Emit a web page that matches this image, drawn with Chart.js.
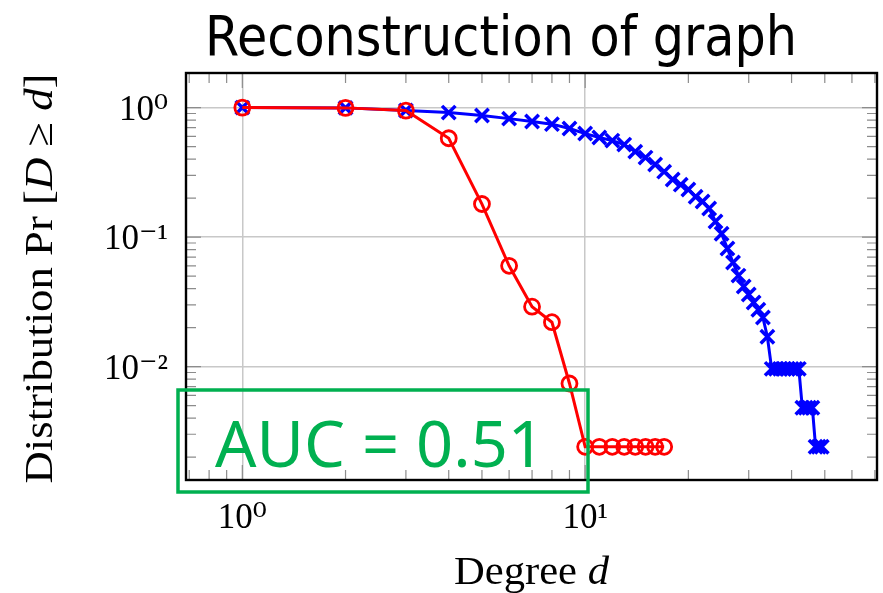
<!DOCTYPE html>
<html>
<head>
<meta charset="utf-8">
<title>Reconstruction of graph</title>
<script src="https://cdn.jsdelivr.net/npm/chart.js@4.4.1/dist/chart.umd.min.js"></script>
<style>
  html, body { margin: 0; padding: 0; background: #fff; overflow: hidden; }
  #wrap { width: 883px; height: 593px; overflow: hidden; position: relative; }
  #chart { display: block; position: absolute; left: 0; top: 0; }
</style>
</head>
<body>
<div id="wrap"><canvas id="chart" width="890" height="593"></canvas></div>
<script>
const chartTitle = 'Reconstruction of graph';
const aucText = 'AUC = 0.51';
// [text, italic?]
const xAxisTitle = [['Degree ', false], ['d', true]];
const yAxisTitle = [['Distribution Pr [', false], ['D', true], [' ≥ ', false], ['d', true], [']', false]];

const xTickValues = [1, 10];
const xTickLabels = ['10⁰', '10¹'];
const yTickValues = [0.01, 0.1, 1];
const yTickLabels = ['10⁻²', '10⁻¹', '10⁰'];

// reconstructed graph (red circles)
const redDegrees = [1, 2, 3, 4, 5, 6, 7, 8, 9, 10, 11, 12, 13, 14, 15, 16, 17];
const redValues = [1.0, 0.995, 0.948, 0.58, 0.18, 0.06, 0.029, 0.022, 0.0074,
                   0.0024, 0.0024, 0.0024, 0.0024, 0.0024, 0.0024, 0.0024, 0.0024];

// original graph (blue crosses)
const blueDegrees = [1, 2, 3, 4, 5, 6, 7, 8, 9, 10,
                     11, 12, 13, 14, 15, 16, 17, 18, 19, 20,
                     21, 22, 23, 24, 25, 26, 27, 28, 29, 30,
                     31, 32, 33, 34, 35, 36, 37, 38, 39, 40,
                     41, 42, 43, 44, 45, 46, 47, 48, 49];
const blueValues = [1.0, 0.995, 0.95, 0.915, 0.868, 0.822, 0.78, 0.745, 0.69, 0.63,
                    0.587, 0.556, 0.518, 0.457, 0.411, 0.363, 0.32, 0.278, 0.254, 0.233,
                    0.205, 0.188, 0.166, 0.132, 0.106, 0.0815, 0.0636, 0.0504, 0.0415, 0.036,
                    0.0312, 0.0275, 0.0239, 0.017, 0.0096, 0.0096, 0.0096, 0.0096, 0.0096, 0.0096,
                    0.0096, 0.0096, 0.0048, 0.0048, 0.0048, 0.0048, 0.0024, 0.0024, 0.0024];

const serif = '"Liberation Serif", "DejaVu Serif", serif';

// draws text squeezed/stretched to a given width
function drawFitted(ctx, text, font, cx, baseline, width) {
    ctx.font = font;
    const w = ctx.measureText(text).width;
    ctx.save();
    ctx.translate(cx, baseline);
    ctx.scale(width / w, 1);
    ctx.textAlign = 'center';
    ctx.textBaseline = 'alphabetic';
    ctx.fillText(text, 0, 0);
    ctx.restore();
}

// mixed roman / italic text, centred on (cx, baseline), optionally rotated
function drawRich(ctx, parts, size, cx, baseline, width, angle) {
    const fontFor = italic => (italic ? 'italic ' : '') + size + 'px ' + serif;
    let total = 0;
    parts.forEach(([t, it]) => { ctx.font = fontFor(it); total += ctx.measureText(t).width; });
    ctx.save();
    ctx.translate(cx, baseline);
    ctx.rotate(angle);
    ctx.scale(width / total, 1);
    ctx.textAlign = 'left';
    ctx.textBaseline = 'alphabetic';
    let x = -total / 2;
    parts.forEach(([t, it]) => {
        ctx.font = fontFor(it);
        ctx.fillText(t, x, 0);
        x += ctx.measureText(t).width;
    });
    ctx.restore();
}

const decorations = {
    id: 'decorations',
    afterDraw(chart) {
        const ctx = chart.ctx;
        const area = chart.chartArea;
        const xs = chart.scales.x;
        const ys = chart.scales.y;

        // minor and major tick marks on all four sides, pointing inwards
        ctx.save();
        ctx.strokeStyle = '#8c8c8c';
        ctx.lineWidth = 1.2;
        ctx.beginPath();
        for (let k = -1; k <= 1; k++) {
            for (let m = 1; m <= 9; m++) {
                const v = m * Math.pow(10, k);
                if (v < xs.min || v > xs.max) continue;
                const px = xs.getPixelForValue(v);
                const len = m === 1 ? 15 : 10;
                ctx.moveTo(px, area.bottom); ctx.lineTo(px, area.bottom - len);
                ctx.moveTo(px, area.top); ctx.lineTo(px, area.top + len);
            }
        }
        for (let k = -3; k <= 0; k++) {
            for (let m = 1; m <= 9; m++) {
                const v = m * Math.pow(10, k);
                if (v < ys.min || v > ys.max) continue;
                const py = ys.getPixelForValue(v);
                const len = m === 1 ? 15 : 10;
                ctx.moveTo(area.left, py); ctx.lineTo(area.left + len, py);
                ctx.moveTo(area.right, py); ctx.lineTo(area.right - len, py);
            }
        }
        ctx.stroke();

        // axis frame
        ctx.strokeStyle = '#000';
        ctx.lineWidth = 2.4;
        ctx.strokeRect(area.left, area.top, area.right - area.left, area.bottom - area.top);

        // titles
        ctx.fillStyle = '#000';
        drawFitted(ctx, chartTitle, '56px "DejaVu Sans", sans-serif', 501, 55, 592);
        drawRich(ctx, xAxisTitle, 40, (area.left + area.right) / 2, 584, 155, 0);
        drawRich(ctx, yAxisTitle, 40, 52, (area.top + area.bottom) / 2 + 2, 410, -Math.PI / 2);

        // AUC box
        ctx.strokeStyle = '#00b050';
        ctx.lineWidth = 3.5;
        ctx.strokeRect(178, 390, 410, 102);
        ctx.fillStyle = '#00b050';
        drawFitted(ctx, aucText, '63px "Noto Sans", sans-serif', 380, 467, 330);
        ctx.restore();
    }
};

const ctx = document.getElementById('chart').getContext('2d');

new Chart(ctx, {
    type: 'line',
    data: {
        datasets: [
            {
                label: 'Reconstruction',
                data: redDegrees.map((d, i) => ({ x: d, y: redValues[i] })),
                borderColor: '#ff0000',
                borderWidth: 3,
                pointStyle: 'circle',
                pointRadius: 7.5,
                pointBorderWidth: 2.8,
                pointBorderColor: '#ff0000',
                pointBackgroundColor: 'rgba(0,0,0,0)',
                tension: 0
            },
            {
                label: 'Original',
                data: blueDegrees.map((d, i) => ({ x: d, y: blueValues[i] })),
                borderColor: '#0000ff',
                borderWidth: 3,
                pointStyle: 'crossRot',
                pointRadius: 9.5,
                pointBorderWidth: 3.5,
                pointBorderColor: '#0000ff',
                tension: 0
            }
        ]
    },
    options: {
        responsive: false,
        animation: false,
        devicePixelRatio: 1,
        layout: { padding: { top: 73, right: 5, left: 0, bottom: 0 } },
        plugins: {
            legend: { display: false },
            title: { display: false },
            tooltip: { enabled: false }
        },
        scales: {
            x: {
                type: 'logarithmic',
                min: 0.685,
                max: 71,
                afterBuildTicks: scale => { scale.ticks = xTickValues.map(v => ({ value: v })); },
                afterFit: scale => { scale.height = 113; },
                ticks: {
                    callback: value => xTickLabels[xTickValues.indexOf(value)],
                    font: { family: serif, size: 35 },
                    color: '#000',
                    padding: 18,
                    maxRotation: 0,
                    autoSkip: false
                },
                grid: { color: '#c8c8c8', lineWidth: 1.5, drawTicks: false },
                border: { display: false }
            },
            y: {
                type: 'logarithmic',
                min: 0.00133,
                max: 1.85,
                afterBuildTicks: scale => { scale.ticks = yTickValues.map(v => ({ value: v })); },
                afterFit: scale => { scale.width = 186; },
                ticks: {
                    callback: value => yTickLabels[yTickValues.indexOf(value)],
                    font: { family: serif, size: 35 },
                    color: '#000',
                    padding: 18,
                    labelOffset: 3,
                    autoSkip: false
                },
                grid: { color: '#c8c8c8', lineWidth: 1.5, drawTicks: false },
                border: { display: false }
            }
        }
    },
    plugins: [decorations]
});
</script>
</body>
</html>
